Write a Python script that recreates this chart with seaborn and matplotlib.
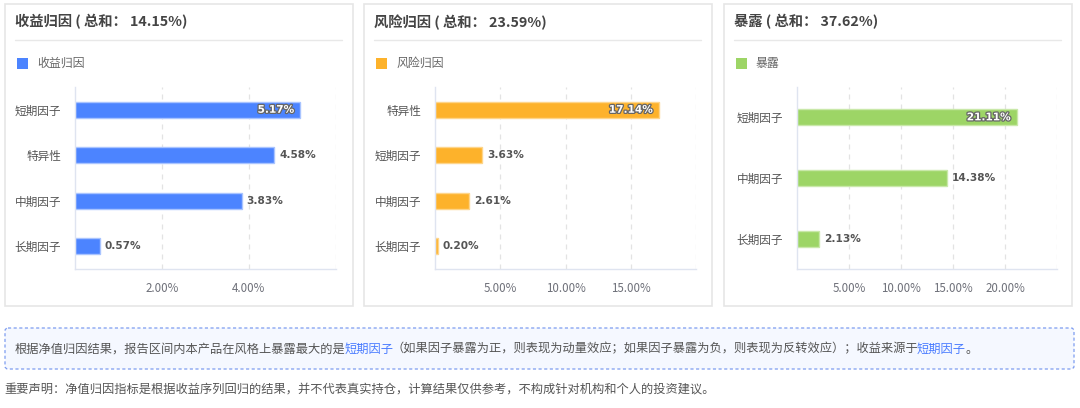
import matplotlib
matplotlib.use("Agg")
import matplotlib.pyplot as plt
import matplotlib.patheffects as pe
from matplotlib.patches import Rectangle, FancyBboxPatch
from matplotlib.lines import Line2D
import numpy as np
import pandas as pd
import seaborn as sns

# -----------------------------
# Data
# -----------------------------
ret_factors = ["短期因子", "特异性", "中期因子", "长期因子"]
ret_values = [5.17, 4.58, 3.83, 0.57]

risk_factors = ["特异性", "短期因子", "中期因子", "长期因子"]
risk_values = [17.14, 3.63, 2.61, 0.20]

exp_factors = ["短期因子", "中期因子", "长期因子"]
exp_values = [21.11, 14.38, 2.13]

panel_titles = ["收益归因 ( 总和： 14.15%)", "风险归因 ( 总和： 23.59%)", "暴露 ( 总和： 37.62%)"]
legend_names = ["收益归因", "风险归因", "暴露"]
x_ticks = [[2, 4, 6], [5, 10, 15, 20], [5, 10, 15, 20, 25]]

note_parts = [
    ("根据净值归因结果，报告区间内本产品在风格上暴露最大的是", False),
    ("短期因子", True),
    ("（如果因子暴露为正，则表现为动量效应；如果因子暴露为负，则表现为反转效应）；收益来源于", False),
    ("短期因子", True),
    ("。", False),
]
disclaimer = "重要声明：净值归因指标是根据收益序列回归的结果，并不代表真实持仓，计算结果仅供参考，不构成针对机构和个人的投资建议。"

colors = ["#4c84ff", "#fdb22b", "#9dd566"]
edge_colors = ["#a9c4ff", "#fed58a", "#c9e8a9"]

# -----------------------------
# Style
# -----------------------------
sns.set_theme(style="white")
plt.rcParams["font.family"] = ["Noto Sans CJK SC", "DejaVu Sans"]
plt.rcParams["axes.unicode_minus"] = False

W, H = 1080, 408
fig = plt.figure(figsize=(W / 100, H / 100), dpi=100)
fig.patch.set_facecolor("white")


def fx(x):
    return x / W


def fy(y):
    return 1 - y / H


overlay = fig.add_axes([0, 0, 1, 1])
overlay.set_xlim(0, W)
overlay.set_ylim(H, 0)
overlay.axis("off")

panel_left = [5, 364, 724]
axes_lr = [(75, 336), (435, 696), (797, 1057)]
data = [
    (ret_factors, ret_values),
    (risk_factors, risk_values),
    (exp_factors, exp_values),
]

for i in range(3):
    pl = panel_left[i]
    # panel frame
    overlay.add_patch(Rectangle((pl, 4), 348, 302, facecolor="white",
                                edgecolor="#e6e6e6", lw=1.2, zorder=0))
    overlay.text(pl + 10, 22, panel_titles[i], fontsize=10.3, fontweight="bold",
                 color="#444444", va="center", ha="left")
    overlay.add_line(Line2D([pl + 10, pl + 337], [40, 40], color="#e8e8e8", lw=1))
    # legend
    overlay.add_patch(Rectangle((pl + 12, 58), 11, 11, facecolor=colors[i],
                                edgecolor="none"))
    overlay.text(pl + 32, 63.5, legend_names[i], fontsize=8.6, color="#666666",
                 va="center", ha="left")

    # bar chart
    factors, values = data[i]
    df = pd.DataFrame({"factor": factors, "value": values})
    l, r = axes_lr[i]
    ax = fig.add_axes([fx(l), fy(269), fx(r - l), (269 - 87) / H])
    ax.patch.set_alpha(0)
    band = 182 / len(factors)
    sns.barplot(data=df, x="value", y="factor", color=colors[i], saturation=1,
                width=16 / band, edgecolor=edge_colors[i], linewidth=1, ax=ax)

    xt = x_ticks[i]
    ax.set_xlim(0, xt[-1])
    ax.set_xticks(xt)
    ax.set_xticklabels([f"{t:.2f}%" for t in xt[:-1]] + [""])
    ax.tick_params(axis="x", length=0, pad=9, labelsize=8.3, labelcolor="#6e7079")
    ax.grid(axis="x", color="#e3e3e3", linestyle=(0, (4, 4)), lw=0.9)
    ax.set_axisbelow(True)

    ax.tick_params(axis="y", which="major", length=0, pad=10, labelsize=8.4,
                   labelcolor="#555555")
    ax.set_yticks(np.arange(-0.5, len(factors), 1.0), minor=True)
    ax.tick_params(axis="y", which="minor", length=7, width=1, color="#dfe4f0")
    ax.set_xlabel("")
    ax.set_ylabel("")
    for s in ["top", "right"]:
        ax.spines[s].set_visible(False)
    for s in ["left", "bottom"]:
        ax.spines[s].set_color("#dfe4f0")
        ax.spines[s].set_linewidth(1)

    vmax = max(values)
    for j, v in enumerate(values):
        label = f"{v:.2f}%"
        if v == vmax:
            ax.annotate(label, (v, j), xytext=(-4, 0), textcoords="offset points",
                        ha="right", va="center", fontsize=7.6, fontweight="bold",
                        family="DejaVu Sans", color="white",
                        path_effects=[pe.withStroke(linewidth=1.8, foreground="#666666")])
        else:
            ax.annotate(label, (v, j), xytext=(3.5, 0), textcoords="offset points",
                        ha="left", va="center", fontsize=7.6, fontweight="bold",
                        family="DejaVu Sans", color="#555555")

# -----------------------------
# Note box
# -----------------------------
overlay.add_patch(FancyBboxPatch((5, 328), 1069, 41,
                                 boxstyle="round,pad=0,rounding_size=3",
                                 facecolor="#f5f8ff", edgecolor="#7d9cf0",
                                 lw=0.9, linestyle=(0, (2.5, 2))))
prev = None
for txt, hl in note_parts:
    c = "#4a7cff" if hl else "#555555"
    if prev is None:
        prev = overlay.text(15, 349, txt, fontsize=8.8, color=c,
                            va="center", ha="left")
    else:
        shift = 0 if txt == "。" else -1.5
        prev = overlay.annotate(txt, xy=(1, 0.5), xycoords=prev,
                                xytext=(shift, 0), textcoords="offset pixels",
                                fontsize=8.8, color=c, va="center", ha="left")

overlay.text(4, 390, disclaimer, fontsize=8.8, color="#555555",
             va="center", ha="left")

fig.savefig("out.png", dpi=100)
